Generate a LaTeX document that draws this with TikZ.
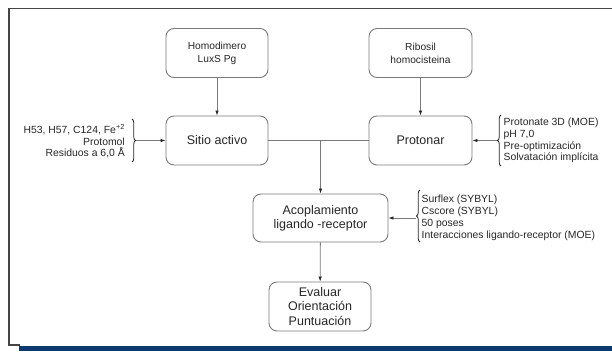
\documentclass[tikz,border=0pt]{standalone}
\usepackage{fontspec}
\setmainfont{Liberation Sans}
\usetikzlibrary{arrows.meta,decorations.pathreplacing}
\definecolor{framegray}{HTML}{454545}
\definecolor{boxgray}{HTML}{7A7A7A}
\definecolor{navybar}{HTML}{0C3A6E}
\tikzset{
  caja/.style={draw=boxgray, line width=0.9pt, rounded corners=8pt, align=center,
    text=black!85, minimum width=102pt, minimum height=49pt, inner sep=2pt},
  grande/.style={font=\fontsize{12.5}{14.3}\selectfont},
  chica/.style={font=\fontsize{10.2}{13}\selectfont},
  nota/.style={font=\fontsize{10.4}{11.8}\selectfont, text=black!85, inner sep=0pt},
  flecha/.style={draw=boxgray, line width=0.8pt, -{Latex[length=5pt,width=3.5pt,color=black!85]}},
  llave/.style={draw=black!85, line width=0.8pt, decorate, decoration={brace,amplitude=3.5pt}}
}

\begin{document}
\begin{tikzpicture}[x=1pt,y=-1pt]
\useasboundingbox (0,0) rectangle (612,351);
% marco
\draw[framegray, line width=1.4pt] (612,8.5) -- (9,8.5) -- (9,345) -- (20,345);
\fill[navybar] (19,346) rectangle (612,351);

% cajas
\node[caja,chica] (homo) at (217,53) {Homodimero\\LuxS Pg};
\node[caja,chica, minimum width=103pt] (ribo) at (420.5,53) {Ribosil\\homocisteina};
\node[caja,grande] (sitio) at (217,140.5) {Sitio activo};
\node[caja,grande, minimum width=103pt] (proto) at (420.5,140.5) {Protonar};
\node[caja,grande, minimum width=135pt, minimum height=48pt] (acop) at (320.5,218) {Acoplamiento\\ligando -receptor};
\node[caja,grande] (eval) at (320,306.5) {Evaluar\\Orientación\\Puntuación};

% notas
\node[nota, align=right, anchor=east] (notaS) at (125,141.5)
  {H53, H57, C124, Fe\textsuperscript{+2}\\Protomol\\Residuos a 6,0 Å};
\node[nota, align=left, anchor=west] (notaP) at (503.5,140.5)
  {Protonate 3D (MOE)\\pH 7,0\\Pre-optimización\\Solvatación implícita};
\node[nota, align=left, anchor=west] (notaA) at (421.5,218)
  {Surflex (SYBYL)\\Cscore (SYBYL)\\50 poses\\Interacciones ligando-receptor (MOE)};

% llaves
\draw[llave] (132,119) -- (132,162);
\draw[llave] (501,166) -- (501,115);
\draw[llave] (420,242) -- (420,190);
\coordinate (puntaS) at (136,140.5);
\coordinate (puntaP) at (497,140.5);
\coordinate (puntaA) at (416,218);

% flechas
\draw[flecha] (homo) -- (sitio);
\draw[flecha] (ribo) -- (proto);
\draw[boxgray, line width=0.8pt] (sitio) -- (proto);
\coordinate (union) at (acop.north |- sitio.east);
\draw[flecha] (union) -- (acop);
\draw[flecha] (acop) -- (eval);
\draw[flecha] (puntaS) -- (sitio.west);
\draw[flecha] (puntaP) -- (proto.east);
\draw[flecha] (puntaA) -- (acop.east);
\end{tikzpicture}
\end{document}
